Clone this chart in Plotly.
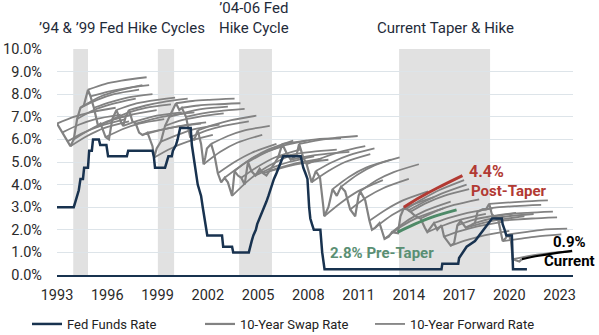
import plotly.graph_objects as go

# ---------------- data ----------------
ff_dates = [1993.0, 1994.0, 1994.1, 1994.2, 1994.3, 1994.4, 1994.55, 1994.62, 1994.85, 1994.92,
            1995.08, 1995.15, 1995.5, 1995.58, 1995.95, 1996.05, 1997.17, 1997.25, 1998.7, 1998.78,
            1998.85, 1999.45, 1999.55, 1999.65, 1999.85, 1999.92, 2000.1, 2000.2, 2000.35, 2000.98,
            2001.05, 2001.1, 2001.2, 2001.3, 2001.4, 2001.5, 2001.6, 2001.7, 2001.8, 2001.9,
            2001.97, 2002.85, 2002.92, 2003.45, 2003.52, 2004.45, 2004.52, 2004.62, 2004.72, 2004.87,
            2004.95, 2005.1, 2005.22, 2005.37, 2005.5, 2005.62, 2005.72, 2005.85, 2005.95, 2006.1,
            2006.22, 2006.37, 2006.5, 2007.55, 2007.7, 2007.83, 2007.95, 2008.05, 2008.12, 2008.22,
            2008.33, 2008.72, 2008.83, 2008.97, 2015.95, 2016.0, 2016.95, 2017.0, 2017.2, 2017.45,
            2017.95, 2018.2, 2018.45, 2018.72, 2018.97, 2019.55, 2019.6, 2019.72, 2019.82, 2020.15,
            2020.22, 2021.05]
ff_rate = [3.0, 3.0, 3.25, 3.5, 3.75, 4.25, 4.25, 4.75, 4.75, 5.5,
           5.5, 6.0, 6.0, 5.75, 5.75, 5.25, 5.25, 5.5, 5.5, 5.25,
           4.75, 4.75, 5.0, 5.25, 5.25, 5.5, 5.75, 6.0, 6.5, 6.5,
           5.75, 5.5, 5.0, 4.5, 4.0, 3.75, 3.5, 3.0, 2.5, 2.0,
           1.75, 1.75, 1.25, 1.25, 1.0, 1.0, 1.25, 1.5, 1.75, 2.0,
           2.25, 2.5, 2.75, 3.0, 3.25, 3.5, 3.75, 4.0, 4.25, 4.5,
           4.75, 5.0, 5.25, 5.25, 4.75, 4.5, 4.25, 3.0, 2.5, 2.25,
           2.0, 2.0, 1.0, 0.25, 0.25, 0.5, 0.5, 0.75, 1.0, 1.25,
           1.5, 1.75, 2.0, 2.25, 2.5, 2.5, 2.25, 2.0, 1.75, 1.75,
           0.25, 0.25]

swap_dates = [1993.0, 1993.3, 1993.6, 1993.8, 1994.0, 1994.2, 1994.4, 1994.6, 1994.85, 1995.0,
              1995.2, 1995.45, 1995.6, 1995.9, 1996.1, 1996.3, 1996.55, 1996.8, 1996.95, 1997.1,
              1997.3, 1997.5, 1997.7, 1997.9, 1998.1, 1998.4, 1998.7, 1998.8, 1998.95, 1999.2,
              1999.45, 1999.7, 2000.0, 2000.1, 2000.3, 2000.45, 2000.7, 2000.95, 2001.2, 2001.4,
              2001.6, 2001.75, 2001.85, 2001.95, 2002.2, 2002.4, 2002.6, 2002.8, 2003.0, 2003.2,
              2003.45, 2003.6, 2003.8, 2004.0, 2004.2, 2004.4, 2004.6, 2004.85, 2005.1, 2005.3,
              2005.5, 2005.7, 2005.95, 2006.2, 2006.45, 2006.7, 2006.95, 2007.3, 2007.45, 2007.7,
              2007.9, 2008.05, 2008.2, 2008.45, 2008.7, 2008.9, 2008.95, 2009.2, 2009.45, 2009.7,
              2009.95, 2010.2, 2010.5, 2010.8, 2011.0, 2011.1, 2011.4, 2011.65, 2011.8, 2012.0,
              2012.25, 2012.55, 2012.8, 2013.0, 2013.35, 2013.5, 2013.7, 2013.9, 2014.1, 2014.4,
              2014.7, 2014.95, 2015.1, 2015.4, 2015.5, 2015.7, 2015.95, 2016.1, 2016.5, 2016.7,
              2016.9, 2017.1, 2017.4, 2017.7, 2017.95, 2018.1, 2018.4, 2018.6, 2018.8, 2018.95,
              2019.1, 2019.35, 2019.6, 2019.75, 2019.95, 2020.1, 2020.2, 2020.4, 2020.6, 2020.75]
swap_rate = [6.7, 6.3, 5.9, 5.7, 6.0, 6.9, 7.4, 7.5, 8.2, 7.9,
             7.4, 6.6, 6.7, 6.1, 6.0, 6.9, 7.3, 6.8, 6.6, 7.0,
             7.3, 6.8, 6.7, 6.3, 6.2, 6.3, 5.7, 5.2, 5.6, 5.9,
             6.6, 7.0, 7.5, 7.6, 7.3, 7.4, 7.0, 6.1, 6.0, 6.4,
             5.8, 4.9, 5.2, 5.6, 5.8, 5.3, 4.5, 4.1, 4.3, 4.1,
             3.5, 4.6, 4.4, 4.3, 4.0, 5.0, 4.6, 4.4, 4.7, 4.5,
             4.4, 4.6, 4.9, 5.2, 5.8, 5.4, 5.1, 5.3, 5.8, 5.2,
             4.9, 4.5, 4.1, 4.6, 4.3, 3.0, 2.6, 3.0, 3.8, 3.5,
             3.9, 3.7, 2.9, 2.6, 3.5, 3.7, 3.3, 2.4, 2.0, 2.1,
             2.3, 1.6, 1.7, 1.9, 1.85, 2.6, 2.95, 2.9, 2.8, 2.6,
             2.5, 2.1, 1.9, 2.2, 2.3, 2.0, 2.2, 1.7, 1.3, 1.4,
             2.2, 2.4, 2.1, 2.2, 2.3, 2.8, 2.9, 2.9, 3.15, 2.7,
             2.6, 2.4, 1.5, 1.6, 1.8, 1.5, 0.7, 0.65, 0.6, 0.7]

# forward horizons (years ahead of the curve date)
fwd_horizon = [0, 1, 2, 3.5]
fwd_dates = [1993.0, 1993.3, 1993.6, 1993.8, 1994.0, 1994.2, 1994.4, 1994.6, 1994.85, 1995.0,
             1995.2, 1995.45, 1995.9, 1996.3, 1996.55, 1996.95, 1997.3, 1997.7, 1998.1, 1998.4,
             1998.8, 1999.2, 1999.45, 1999.7, 2000.1, 2000.45, 2000.7, 2000.95, 2001.4, 2001.75,
             2002.2, 2002.6, 2003.0, 2003.45, 2003.6, 2004.0, 2004.4, 2004.85, 2005.3, 2005.7,
             2006.2, 2006.45, 2006.95, 2007.45, 2007.9, 2008.2, 2008.45, 2008.95, 2009.45, 2009.95,
             2010.5, 2011.1, 2011.65, 2012.0, 2012.55, 2013.0, 2013.8, 2013.95, 2014.1, 2014.7,
             2015.1, 2015.5, 2016.1, 2016.5, 2016.9, 2017.4, 2017.95, 2018.4, 2018.8, 2019.1,
             2019.35, 2019.6, 2019.95, 2020.2]
fwd_rates = [
    [6.7, 7.0, 7.2, 7.4], [6.3, 6.65, 6.9, 7.1], [5.9, 6.3, 6.6, 6.9], [5.7, 6.15, 6.5, 6.8],
    [6.0, 6.45, 6.8, 7.1], [6.9, 7.3, 7.55, 7.8], [7.4, 7.75, 8.0, 8.2], [7.5, 7.9, 8.15, 8.4],
    [8.2, 8.45, 8.6, 8.75], [7.9, 8.1, 8.25, 8.4], [7.4, 7.65, 7.85, 8.0], [6.6, 6.9, 7.1, 7.3],
    [6.1, 6.45, 6.7, 6.9], [6.9, 7.2, 7.4, 7.55], [7.3, 7.55, 7.7, 7.85], [6.6, 6.85, 7.05, 7.2],
    [7.3, 7.5, 7.65, 7.8], [6.7, 6.9, 7.05, 7.2], [6.2, 6.4, 6.55, 6.7], [6.3, 6.45, 6.6, 6.75],
    [5.2, 5.6, 5.9, 6.2], [5.9, 6.2, 6.45, 6.65], [6.6, 6.85, 7.0, 7.15], [7.0, 7.2, 7.35, 7.45],
    [7.6, 7.7, 7.75, 7.8], [7.4, 7.5, 7.55, 7.6], [7.0, 7.15, 7.25, 7.35], [6.1, 6.4, 6.6, 6.8],
    [6.4, 6.65, 6.85, 7.05], [4.9, 5.45, 5.85, 6.2], [5.8, 6.15, 6.4, 6.6], [4.5, 5.0, 5.4, 5.8],
    [4.3, 4.85, 5.3, 5.7], [3.5, 4.2, 4.75, 5.3], [4.6, 5.15, 5.55, 5.95], [4.3, 4.8, 5.2, 5.55],
    [5.0, 5.4, 5.7, 5.95], [4.4, 4.75, 5.0, 5.25], [4.5, 4.75, 4.95, 5.15], [4.6, 4.8, 4.95, 5.1],
    [5.2, 5.35, 5.45, 5.55], [5.8, 5.9, 6.0, 6.05], [5.1, 5.25, 5.35, 5.45], [5.8, 5.95, 6.05, 6.15],
    [4.9, 5.2, 5.45, 5.7], [4.1, 4.6, 5.0, 5.35], [4.6, 5.0, 5.3, 5.6], [2.6, 3.2, 3.7, 4.2],
    [3.8, 4.35, 4.75, 5.1], [3.9, 4.45, 4.85, 5.2], [2.9, 3.45, 3.85, 4.25], [3.7, 4.2, 4.55, 4.9],
    [2.4, 2.9, 3.3, 3.7], [2.1, 2.65, 3.05, 3.45], [1.6, 2.15, 2.55, 2.95], [1.9, 2.45, 2.85, 3.25],
    [2.9, 3.35, 3.75, 4.2], [2.85, 3.25, 3.6, 4.0], [2.8, 3.2, 3.5, 3.8], [2.5, 2.85, 3.1, 3.35],
    [1.9, 2.2, 2.45, 2.7], [2.3, 2.55, 2.75, 2.95], [1.7, 1.95, 2.15, 2.35], [1.3, 1.55, 1.75, 1.95],
    [2.2, 2.45, 2.6, 2.75], [2.1, 2.3, 2.45, 2.6], [2.3, 2.5, 2.6, 2.7], [2.9, 3.0, 3.05, 3.1],
    [3.15, 3.2, 3.25, 3.3], [2.6, 2.7, 2.75, 2.8], [2.4, 2.45, 2.5, 2.55], [1.5, 1.6, 1.7, 1.8],
    [1.8, 1.9, 2.0, 2.05], [0.7, 0.85, 0.95, 1.05],
]

pre_taper_date = 2013.35
pre_taper_rates = [1.9, 2.25, 2.55, 2.88]
post_taper_date = 2013.7
post_taper_rates = [3.0, 3.45, 3.85, 4.4]
current_date = 2020.75
current_horizon = [0, 1, 2, 3]
current_rates = [0.7, 0.85, 0.97, 1.07]

hike_start = [1993.97, 1999.02, 2003.87, 2013.42]
hike_end = [1994.85, 1999.99, 2005.83, 2018.85]

x_ticks = [1993, 1996, 1999, 2002, 2005, 2008, 2011, 2014, 2017, 2020, 2023]
y_ticks = [0, 1, 2, 3, 4, 5, 6, 7, 8, 9, 10]

# ---------------- figure ----------------
NAVY = "#18324f"
GRAY = "#828282"
FONT = "Roboto"

fig = go.Figure()

# forward curves (one trace, curves separated by gaps)
fx, fy = [], []
for d, vals in zip(fwd_dates, fwd_rates):
    fx += [d + h for h in fwd_horizon] + [None]
    fy += list(vals) + [None]

fig.add_trace(go.Scatter(x=fx, y=fy, mode="lines", name="10-Year Forward Rate",
                         line=dict(color=GRAY, width=1.8, shape="spline", smoothing=0.8),
                         connectgaps=False, legend="legend3", hoverinfo="skip"))
fig.add_trace(go.Scatter(x=swap_dates, y=swap_rate, mode="lines", name="10-Year Swap Rate",
                         line=dict(color=GRAY, width=2.2), legend="legend2"))
fig.add_trace(go.Scatter(x=[pre_taper_date + h for h in fwd_horizon], y=pre_taper_rates,
                         mode="lines", line=dict(color="#4d8a68", width=3, shape="spline"),
                         showlegend=False))
fig.add_trace(go.Scatter(x=[post_taper_date + h for h in fwd_horizon], y=post_taper_rates,
                         mode="lines", line=dict(color="#b23a33", width=3, shape="spline"),
                         showlegend=False))
fig.add_trace(go.Scatter(x=[current_date + h for h in current_horizon], y=current_rates,
                         mode="lines", line=dict(color="#000000", width=2.2, shape="spline"),
                         showlegend=False))
fig.add_trace(go.Scatter(x=ff_dates, y=ff_rate, mode="lines", name="Fed Funds Rate",
                         line=dict(color=NAVY, width=2.5), legend="legend"))

for s, e in zip(hike_start, hike_end):
    fig.add_shape(type="rect", xref="x", yref="y", x0=s, x1=e, y0=0, y1=10,
                  fillcolor="#e1e1e1", line=dict(width=0), layer="below")

hdr = dict(size=15, color="#1f2b3a", family=FONT)
fig.add_annotation(text="’94 & ’99 Fed Hike Cycles", x=1996.9, y=1.093, xref="x", yref="paper",
                   showarrow=False, font=hdr, yanchor="middle")
fig.add_annotation(text="’04-06 Fed<br>Hike Cycle", x=2004.76, y=1.137, xref="x", yref="paper",
                   showarrow=False, font=hdr, yanchor="middle")
fig.add_annotation(text="Current Taper & Hike", x=2016.2, y=1.093, xref="x", yref="paper",
                   showarrow=False, font=hdr, yanchor="middle")

bold_red = dict(size=15, color="#b23a33", family=FONT, weight="bold")
fig.add_annotation(text="4.4%", x=2017.5, y=4.56, showarrow=False,
                   font=dict(size=16, color="#b23a33", family=FONT, weight="bold"),
                   xanchor="left", yanchor="middle")
fig.add_annotation(text="Post-Taper", x=2017.6, y=3.72, showarrow=False, font=bold_red,
                   xanchor="left", yanchor="middle")
fig.add_annotation(text="2.8% Pre-Taper", x=2012.4, y=0.97, showarrow=False,
                   font=dict(size=15, color="#5a8f73", family=FONT, weight="bold"),
                   xanchor="center", yanchor="middle")
blk = dict(size=15, color="#000000", family=FONT, weight="bold")
fig.add_annotation(text="0.9%", x=2023.6, y=1.46, showarrow=False, font=blk,
                   xanchor="center", yanchor="middle")
fig.add_annotation(text="Current", x=2023.57, y=0.62, showarrow=False, font=blk,
                   xanchor="center", yanchor="middle")

leg_common = dict(orientation="h", xref="container", yref="container", yanchor="middle",
                  y=1 - 324 / 335, xanchor="left", bgcolor="rgba(0,0,0,0)",
                  font=dict(size=13, color="#222", family=FONT), itemwidth=30)

fig.update_layout(
    width=599, height=335,
    margin=dict(l=57, r=26, t=49, b=60, autoexpand=False),
    plot_bgcolor="white", paper_bgcolor="white",
    font=dict(family=FONT, color="#2a2a2a"),
    showlegend=True,
    legend=dict(x=27 / 599, **leg_common),
    legend2=dict(x=200 / 599, **leg_common),
    legend3=dict(x=370 / 599, **leg_common),
    xaxis=dict(range=[1993, 2023.8], tickvals=x_ticks, ticktext=[str(t) for t in x_ticks],
               showgrid=False, zeroline=False, showline=True, linecolor=NAVY, linewidth=2,
               ticks="", tickfont=dict(size=14.5, color="#2a2a2a", family=FONT),
               ticklabelstandoff=6, fixedrange=True, automargin=False),
    yaxis=dict(range=[0, 10], tickvals=y_ticks, ticktext=[f"{v:.1f}%" for v in y_ticks],
               showgrid=True, gridcolor="#dde4e9", gridwidth=1, zeroline=False,
               ticks="", tickfont=dict(size=14.5, color="#2a2a2a", family=FONT),
               ticklabelstandoff=14, fixedrange=True, automargin=False),
)

fig.write_html("out.html")
